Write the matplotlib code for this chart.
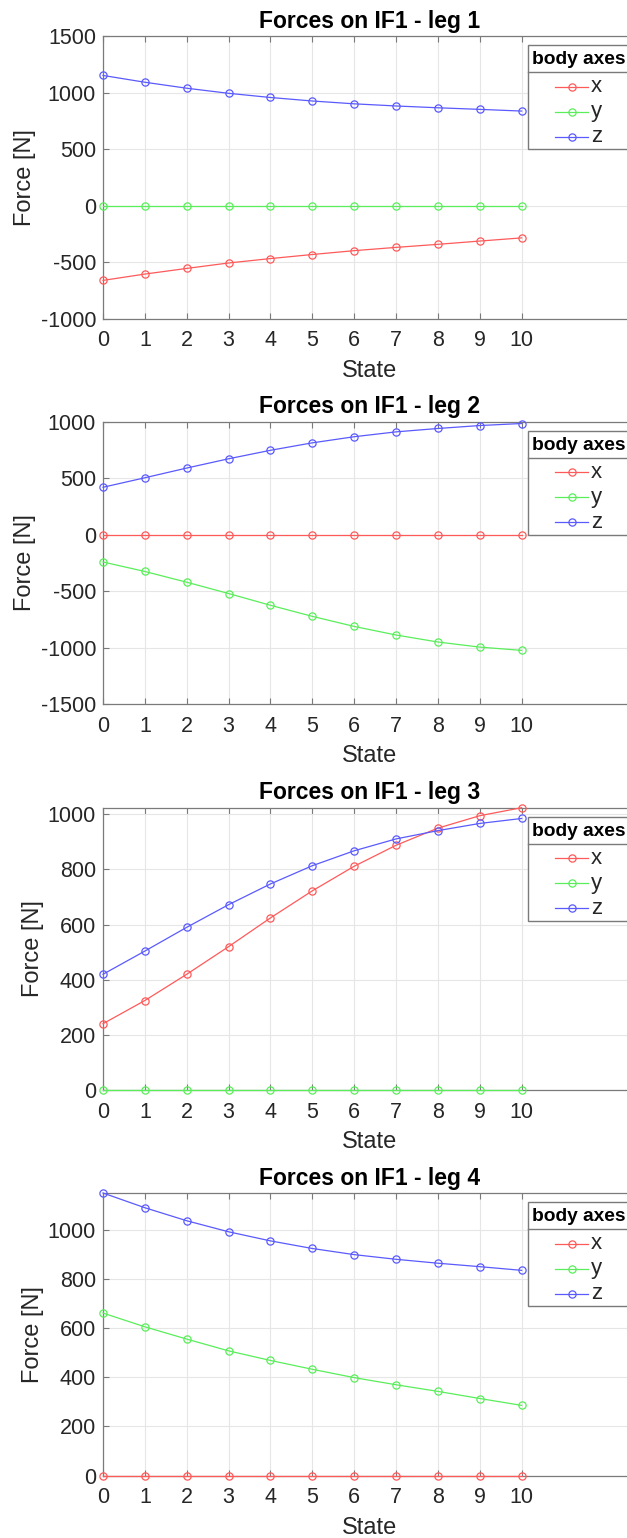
import matplotlib
matplotlib.use('Agg')
import matplotlib.pyplot as plt
from matplotlib.lines import Line2D
from matplotlib.patches import Rectangle

plt.rcParams['font.family'] = ['Liberation Sans', 'DejaVu Sans']
plt.rcParams['axes.unicode_minus'] = False

states = list(range(11))
xtick_vals = list(range(11))

titles = ['Forces on IF1 - leg 1', 'Forces on IF1 - leg 2',
          'Forces on IF1 - leg 3', 'Forces on IF1 - leg 4']
series_names = ['x', 'y', 'z']
legend_title = 'body axes'

leg1_x = [-662, -606, -556, -508, -469, -433, -399, -370, -343, -314, -286]
leg1_y = [0, 0, 0, 0, 0, 0, 0, 0, 0, 0, 0]
leg1_z = [1151, 1091, 1038, 993, 956, 925, 900, 881, 865, 851, 836]

leg2_x = [0, 0, 0, 0, 0, 0, 0, 0, 0, 0, 0]
leg2_y = [-241, -325, -420, -520, -624, -722, -811, -887, -949, -994, -1023]
leg2_z = [420, 504, 590, 672, 747, 813, 867, 910, 940, 966, 984]

leg3_x = [241, 325, 420, 520, 624, 722, 811, 887, 949, 994, 1023]
leg3_y = [0, 0, 0, 0, 0, 0, 0, 0, 0, 0, 0]
leg3_z = [420, 504, 590, 672, 747, 813, 867, 910, 940, 966, 984]

leg4_x = [0, 0, 0, 0, 0, 0, 0, 0, 0, 0, 0]
leg4_y = [662, 606, 556, 508, 469, 433, 399, 370, 343, 314, 286]
leg4_z = [1151, 1091, 1038, 993, 956, 925, 900, 881, 865, 851, 836]

ylims = [(-1000, 1500), (-1500, 1000), (0, 1023), (0, 1151)]
yticks = [[-1000, -500, 0, 500, 1000, 1500],
          [-1500, -1000, -500, 0, 500, 1000],
          [0, 200, 400, 600, 800, 1000],
          [0, 200, 400, 600, 800, 1000]]

data = [(leg1_x, leg1_y, leg1_z), (leg2_x, leg2_y, leg2_z),
        (leg3_x, leg3_y, leg3_z), (leg4_x, leg4_y, leg4_z)]

colors = ['#ff5a5a', '#5aee5a', '#5a5aff']
spine_col = '#7a7a7a'
text_col = '#262626'

W, H = 627, 1538
fig = plt.figure(figsize=(W / 100, H / 100), dpi=100)
fig.patch.set_facecolor('white')

axes_tops = [36, 421.7, 807.7, 1193]
ax_h = 282.6
left_px = 103
unit = 41.86
xmax = 12.75
width_px = unit * xmax

for i in range(4):
    top = axes_tops[i]
    ax = fig.add_axes([left_px / W, 1 - (top + ax_h) / H, width_px / W, ax_h / H])
    for vals, c in zip(data[i], colors):
        ax.plot(states, vals, color=c, lw=0.9, marker='o', ms=5.2,
                mfc='none', mec=c, mew=0.9, clip_on=False, zorder=3)
    ax.set_xlim(0, xmax)
    ax.set_ylim(*ylims[i])
    ax.set_xticks(xtick_vals)
    ax.set_yticks(yticks[i])
    ax.grid(True, color='#e6e6e6', lw=0.8)
    ax.set_axisbelow(True)
    for s in ['left', 'bottom', 'top', 'right']:
        ax.spines[s].set_color(spine_col)
        ax.spines[s].set_linewidth(0.9)
    ax.spines['right'].set_visible(False)
    ax.tick_params(axis='both', direction='in', length=4, width=0.8,
                   color=spine_col, labelcolor=text_col, labelsize=15.5)
    ax.tick_params(axis='x', top=True, pad=8.5)
    ax.tick_params(axis='y', pad=5)
    ax.set_title(titles[i], fontsize=16.5, fontweight='bold', pad=6, color='black')
    ax.set_xlabel('State', fontsize=17, color=text_col, labelpad=6)
    ax.set_ylabel('Force [N]', fontsize=17, color=text_col, labelpad=3)

    # legend box (MATLAB style with title separator)
    lt = top + 9
    lh = 104
    lx0 = 528
    rect = Rectangle((lx0 / W, 1 - (lt + lh) / H), 130 / W, lh / H,
                     transform=fig.transFigure, fc='white', ec=spine_col,
                     lw=1.0, zorder=10)
    fig.add_artist(rect)
    fig.add_artist(Line2D([lx0 / W, 1.0], [1 - (lt + 27) / H] * 2,
                          transform=fig.transFigure, color=spine_col, lw=1.0, zorder=11))
    fig.text(532 / W, 1 - (lt + 14.5) / H, legend_title, fontsize=13.8,
             fontweight='bold', ha='left', va='center', color='black', zorder=12)
    for k, (name, c) in enumerate(zip(series_names, colors)):
        yy = 1 - (lt + 41.7 + k * 25) / H
        fig.add_artist(Line2D([555 / W, 588 / W], [yy, yy], transform=fig.transFigure,
                              color=c, lw=0.9, zorder=12))
        fig.add_artist(Line2D([572 / W], [yy], transform=fig.transFigure,
                              color=c, marker='o', ms=5.2, mfc='none', mec=c,
                              mew=0.9, lw=0, zorder=12))
        fig.text(591 / W, yy, name, fontsize=16, ha='left', va='center',
                 color=text_col, zorder=12)

fig.savefig('out.png', dpi=100, facecolor='white')
